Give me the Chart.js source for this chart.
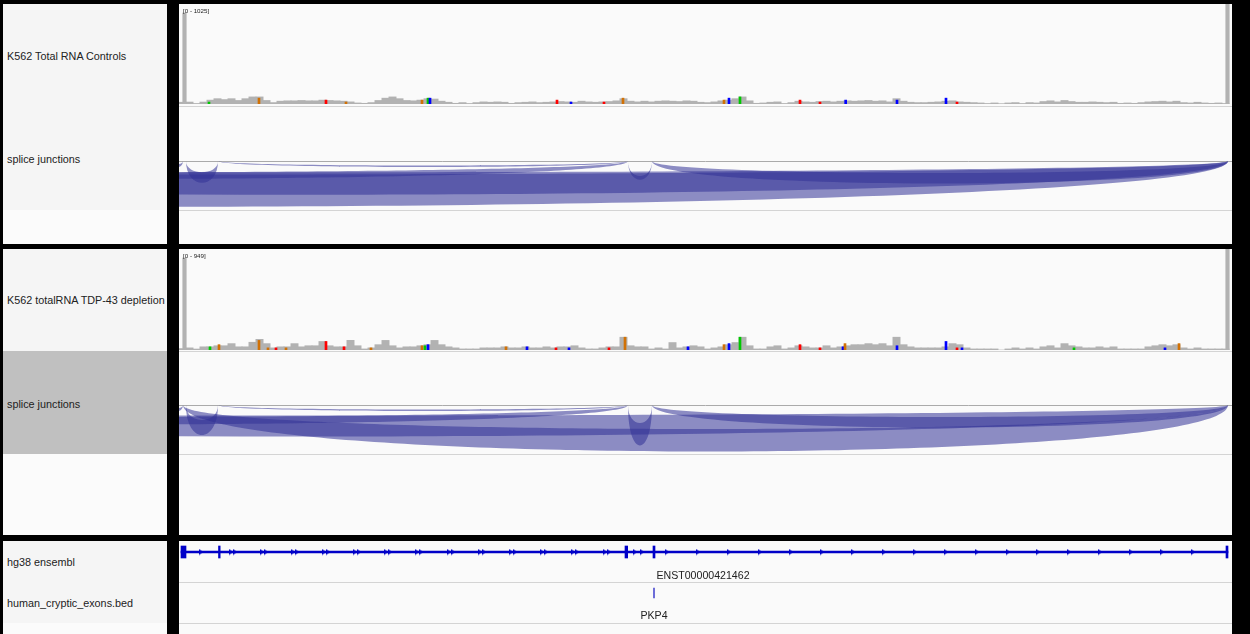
<!DOCTYPE html>
<html>
<head>
<meta charset="utf-8">
<title>PKP4 splice junctions</title>
<script src="https://cdn.jsdelivr.net/npm/chart.js@4"></script>
<style>
    body { margin: 0; background: #000; width: 1250px; height: 634px; overflow: hidden;
           font-family: "Liberation Sans", Arial, sans-serif; }
    .name { position: absolute; left: 3px; width: 164px; background: #fbfbfb; }
    .trk { position: absolute; left: 3px; width: 164px; background: #f5f5f5; }
    .sel { position: absolute; left: 3px; width: 164px; background: #c0c0c0; }
    .data { position: absolute; left: 179px; width: 1053px; background: #fafafa; }
    .label { position: absolute; left: 7px; font-size: 10.8px; color: #222; white-space: nowrap;
             transform: translateY(-50%); }
    .range { position: absolute; left: 183px; font-size: 6.2px; color: #222; transform: translateY(-50%); }
    .hline { position: absolute; left: 179px; width: 1053px; height: 1px; background: #d4d4d4; }
    .feat { position: absolute; font-size: 10.6px; color: #222; transform: translate(-50%, -50%); white-space: nowrap; }
    canvas { position: absolute; left: 179px; }
</style>
</head>
<body>
    <div class="name" style="top:4px;height:240px"></div>
    <div class="trk" style="top:4px;height:206px"></div>
    <div class="data" style="top:4px;height:240px"></div>
    <div class="name" style="top:249px;height:286px"></div>
    <div class="trk" style="top:249px;height:102px"></div>
    <div class="sel" style="top:351px;height:103px"></div>
    <div class="data" style="top:249px;height:286px"></div>
    <div class="name" style="top:541px;height:93px"></div>
    <div class="trk" style="top:541px;height:82px"></div>
    <div class="data" style="top:541px;height:93px"></div>

    <div class="hline" style="top:106px"></div>
    <div class="hline" style="top:210px"></div>
    <div class="hline" style="top:351px"></div>
    <div class="hline" style="top:454px"></div>
    <div class="hline" style="top:582px"></div>
    <div class="hline" style="top:623px"></div>

    <div class="label" style="top:56px">K562 Total RNA Controls</div>
    <div class="label" style="top:159px">splice junctions</div>
    <div class="label" style="top:300px">K562 totalRNA TDP-43 depletion</div>
    <div class="label" style="top:404px">splice junctions</div>
    <div class="label" style="top:562px">hg38 ensembl</div>
    <div class="label" style="top:603px">human_cryptic_exons.bed</div>

    <canvas id="cov-ctrl" width="1053" height="102" style="top:4px"></canvas>
    <canvas id="sj-ctrl" width="1053" height="103" style="top:107px"></canvas>
    <canvas id="cov-tdp" width="1053" height="102" style="top:249px"></canvas>
    <canvas id="sj-tdp" width="1053" height="103" style="top:351px"></canvas>
    <canvas id="gene" width="1053" height="41" style="top:541px"></canvas>
    <canvas id="bed" width="1053" height="41" style="top:582px"></canvas>

    <div class="range" style="top:10px">[0 - 1025]</div>
    <div class="range" style="top:255px">[0 - 949]</div>
    <div class="feat" style="left:703px;top:575px">ENST00000421462</div>
    <div class="feat" style="left:654px;top:615px">PKP4</div>

    <script>
        // view window, chr2 (kb)
        const viewStartKb = 158456;
        const viewEndKb = 158771.9;
        const covBinKb = 2.1;

        // coverage per 2.1 kb bin
        const ctrlCoverage = [20,22,6,22,44,60,50,60,40,60,80,80,40,16,32,36,36,40,36,36,44,40,36,32,24,12,8,16,40,66,
            80,60,40,36,44,60,56,32,20,8,16,6,16,24,20,24,20,8,16,20,24,16,20,24,28,24,20,32,24,20,
            24,28,36,60,32,24,32,24,32,36,32,28,36,32,20,16,24,36,44,60,80,36,8,12,20,24,6,16,32,24,
            20,28,32,24,32,36,32,36,40,32,36,24,60,32,20,16,16,20,24,32,36,24,20,16,12,6,12,4,12,16,
            6,16,12,28,36,24,40,28,20,20,24,20,16,20,8,12,8,16,24,28,32,24,32,16,12,20,12,8,12,6];
        const tdpCoverage = [15,22,10,33,33,44,44,66,33,33,80,110,66,22,33,33,66,33,44,44,
            88,44,33,33,100,44,11,22,55,99,44,22,33,33,44,55,99,55,33,22,11,11,11,22,22,22,33,22,22,33,
            22,22,33,22,33,33,44,22,11,11,22,33,33,132,44,33,33,11,22,11,77,22,33,44,33,
            11,22,33,55,77,132,44,11,11,33,44,11,22,44,33,22,22,44,22,33,44,55,55,66,55,66,44,132,55,33,
            22,22,22,22,33,66,55,22,11,11,11,11,0,11,22,11,22,11,33,44,22,66,44,33,22,22,33,22,33,11,
            11,11,11,33,44,55,44,55,22,11,22,11,11,11,11];

        // high-coverage exon peaks at both ends
        const ctrlPeakKb = [158457.65, 158770.55];
        const ctrlPeakCount = [1025, 1500];
        const tdpPeakKb = [158457.65, 158770.55];
        const tdpPeakCount = [949, 1500];

        // mismatch bases
        const ctrlMisKb = [158465.0,158480.0,158500.1,158506.1,158528.9,158530.7,158531.3,158569.4,158573.6,158583.5,
            158589.2,158619.5,158621.0,158624.3,158642.3,158648.3,158656.0,158671.4,158686.1,158689.4];
        const ctrlMisCount = [22,66,44,22,44,66,66,44,22,22,66,44,66,80,44,22,44,44,66,22];
        const ctrlMisBase = ['A','G','T','G','G','A','C','T','C','T','G','G','C','A','T','T','C','C','C','T'];
        const tdpMisKb = [158465.3,158468.0,158480.0,158482.7,158485.1,158488.1,158500.1,158505.5,158513.6,158528.9,
            158529.8,158530.7,158554.1,158560.4,158569.1,158573.0,158585.0,158589.8,158608.7,158619.5,
            158621.0,158624.3,158642.3,158648.3,158655.2,158655.8,158671.4,158686.1,158689.4,158690.9,
            158724.5,158751.8,158756.0];
        const tdpMisCount = [33,55,99,22,22,22,88,33,22,44,44,55,33,33,22,22,22,132,33,55,
            66,132,55,22,33,66,44,88,22,22,22,22,66];
        const tdpMisBase = ['A','G','G','G','T','G','T','T','G','G','A','C','G','C','T','C','T','G','C','G',
            'C','A','T','T','C','G','C','C','T','C','A','C','G'];

        // splice junctions (minus strand): start, end, arc depth, arc thickness
        const ctrlJuncStart = [158126, 158216, 158276, 158597.9, 158590.7, 158458.1, 158467.7, 158454.2];
        const ctrlJuncEnd = [158770.7, 158770.7, 158590.7, 158770.7, 158597.9, 158467.7, 158590.7, 158457.2];
        const ctrlJuncDepth = [61, 45, 24, 30, 25, 29, 8, 8];
        const ctrlJuncThick = [43, 30, 9, 14, 5, 14, 2, 4];
        const tdpJuncStart = [158457.2, 158216, 158276, 158597.9, 158590.7, 158458.1, 158467.7, 158454.2];
        const tdpJuncEnd = [158770.7, 158770.7, 158590.7, 158770.7, 158597.9, 158467.7, 158590.7, 158457.2];
        const tdpJuncDepth = [62, 42, 26, 30, 54, 40, 8, 8];
        const tdpJuncThick = [30, 28, 10, 14, 30, 20, 2, 4];

        // ENST00000421462
        const geneStartKb = 158456.6;
        const geneEndKb = 158770.7;
        const exonStartKb = [158456.6, 158467.85, 158589.8, 158598.2, 158770.1];
        const exonEndKb = [158458.1, 158468.35, 158590.6, 158598.8, 158770.7];
        const arrowKb = [158462.6,158592.8,158594.9,158602.4,158611.7,158621.0,158630.3,158639.6,158648.9,158658.2,
            158667.5,158676.8,158686.1,158695.4,158704.7,158713.7,158723.0,158732.3,158741.6,158750.9,158760.2];
        const doubleArrowKb = [158472.2,158481.5,158490.8,158500.1,158509.4,158518.7,158528.0,158537.6,158546.9,
            158556.2,158565.5,158574.8,158584.4];

        // human_cryptic_exons.bed
        const crypticStartKb = [158598.35];
        const crypticEndKb = [158598.65];

        const baseColors = { A: 'rgb(0,200,0)', C: 'rgb(0,0,255)', G: 'rgb(209,113,5)', T: 'rgb(255,0,0)' };
        const geneBlue = 'rgb(0,0,200)';

        Chart.defaults.animation = false;
        Chart.defaults.responsive = false;
        Chart.defaults.layout.autoPadding = false;
        Chart.defaults.plugins.legend.display = false;
        Chart.defaults.plugins.tooltip.enabled = false;

        const xScale = { type: 'linear', min: viewStartKb, max: viewEndKb, display: false, offset: false };

        function coverageChart(id, cov, peakKb, peakCount, misKb, misCount, misBase, maxY, padTop, padBottom) {
            const bins = cov.map((v, i) => ({ x: viewStartKb + covBinKb * (i + 0.5), y: v }));
            new Chart(document.getElementById(id), {
                type: 'bar',
                data: {
                    datasets: [
                        { data: misKb.map((k, i) => ({ x: k, y: misCount[i] })),
                          backgroundColor: misBase.map(b => baseColors[b]),
                          barThickness: 2, stack: 'cov', order: 1 },
                        { data: peakKb.map((k, i) => ({ x: k, y: peakCount[i] })),
                          backgroundColor: 'rgb(178,178,178)', barThickness: 3.5, stack: 'cov', order: 2,
                          clip: { left: 0, top: padTop, right: 2, bottom: 0 } },
                        { data: bins, backgroundColor: 'rgb(178,178,178)', barThickness: 7.3,
                          stack: 'cov', order: 3 }
                    ]
                },
                options: {
                    layout: { padding: { top: padTop, bottom: padBottom, left: 0, right: 0 } },
                    datasets: { bar: { borderWidth: 0 } },
                    scales: {
                        x: xScale,
                        y: { type: 'linear', min: 0, max: maxY, display: false, stacked: false }
                    }
                }
            });
        }

        coverageChart('cov-ctrl', ctrlCoverage, ctrlPeakKb, ctrlPeakCount, ctrlMisKb, ctrlMisCount, ctrlMisBase, 1025, 9, 2);
        coverageChart('cov-tdp', tdpCoverage, tdpPeakKb, tdpPeakCount, tdpMisKb, tdpMisCount, tdpMisBase, 949, 9, 1);

        // splice junction arcs drawn as filled bezier bands below the baseline
        const arcPlugin = {
            id: 'arcs',
            beforeDatasetsDraw(chart, args, opts) {
                const { ctx, chartArea: a, scales: { x, y } } = chart;
                const y0 = y.getPixelForValue(0);
                ctx.save();
                ctx.beginPath();
                ctx.rect(a.left, a.top, a.width, a.height);
                ctx.clip();
                ctx.strokeStyle = '#aaaaaa';
                ctx.lineWidth = 1;
                ctx.beginPath();
                ctx.moveTo(a.left, Math.round(y0) + 0.5);
                ctx.lineTo(a.right, Math.round(y0) + 0.5);
                ctx.stroke();
                opts.start.forEach((s, i) => {
                    const xs = x.getPixelForValue(s);
                    const xe = x.getPixelForValue(opts.end[i]);
                    const yo = y.getPixelForValue(opts.depth[i]);
                    const yi = y.getPixelForValue(opts.depth[i] - opts.thick[i]);
                    ctx.beginPath();
                    ctx.moveTo(xs, y0);
                    ctx.bezierCurveTo(xs, yo, xe, yo, xe, y0);
                    ctx.bezierCurveTo(xe, yi, xs, yi, xs, y0);
                    ctx.closePath();
                    ctx.fillStyle = 'rgba(50,50,150,0.55)';
                    ctx.fill();
                });
                ctx.restore();
            }
        };

        function junctionChart(id, start, end, depth, thick) {
            new Chart(document.getElementById(id), {
                type: 'line',
                data: { datasets: [{ data: [] }] },
                options: {
                    layout: { padding: 0 },
                    plugins: { arcs: { start, end, depth, thick } },
                    scales: {
                        x: xScale,
                        y: { type: 'linear', min: -54, max: 49, reverse: true, display: false }
                    }
                },
                plugins: [arcPlugin]
            });
        }

        junctionChart('sj-ctrl', ctrlJuncStart, ctrlJuncEnd, ctrlJuncDepth, ctrlJuncThick);
        junctionChart('sj-tdp', tdpJuncStart, tdpJuncEnd, tdpJuncDepth, tdpJuncThick);

        // strand arrow glyphs
        function arrowGlyph(n) {
            const c = document.createElement('canvas');
            c.width = 4 + (n - 1) * 4;
            c.height = 7;
            const g = c.getContext('2d');
            g.fillStyle = geneBlue;
            for (let k = 0; k < n; k++) {
                g.beginPath();
                g.moveTo(k * 4, 0.5);
                g.lineTo(k * 4 + 4, 3.5);
                g.lineTo(k * 4, 6.5);
                g.closePath();
                g.fill();
            }
            return c;
        }

        // gene row sits at y = 0, about 10 px below the top of the track
        new Chart(document.getElementById('gene'), {
            type: 'bar',
            data: {
                datasets: [
                    { type: 'scatter', data: arrowKb.map(k => ({ x: k, y: 0 })),
                      pointStyle: arrowGlyph(1), pointRadius: 3, order: 1 },
                    { type: 'scatter', data: doubleArrowKb.map(k => ({ x: k, y: 0 })),
                      pointStyle: arrowGlyph(2), pointRadius: 3, order: 1 },
                    { data: exonStartKb.map((s, i) => ({ x: [s, exonEndKb[i]], y: 0 })),
                      backgroundColor: geneBlue, barThickness: 12, stack: 'g', order: 2 },
                    { data: [{ x: [geneStartKb, geneEndKb], y: 0 }],
                      backgroundColor: geneBlue, barThickness: 1.6, stack: 'g', order: 3 }
                ]
            },
            options: {
                indexAxis: 'y',
                layout: { padding: { top: 0, bottom: 19, left: 0, right: 0 } },
                datasets: { bar: { borderWidth: 0 } },
                scales: {
                    x: { ...xScale, stacked: false },
                    y: { type: 'linear', min: -1, max: 1, display: false, offset: false }
                }
            }
        });

        new Chart(document.getElementById('bed'), {
            type: 'bar',
            data: {
                datasets: [
                    { data: crypticStartKb.map((s, i) => ({ x: [s, crypticEndKb[i]], y: 0 })),
                      backgroundColor: 'rgb(80,80,210)', barThickness: 10, minBarLength: 1 }
                ]
            },
            options: {
                indexAxis: 'y',
                layout: { padding: { top: 0, bottom: 19, left: 0, right: 0 } },
                datasets: { bar: { borderWidth: 0 } },
                scales: {
                    x: { ...xScale, stacked: false },
                    y: { type: 'linear', min: -1, max: 1, display: false, offset: false }
                }
            }
        });
    </script>
</body>
</html>
